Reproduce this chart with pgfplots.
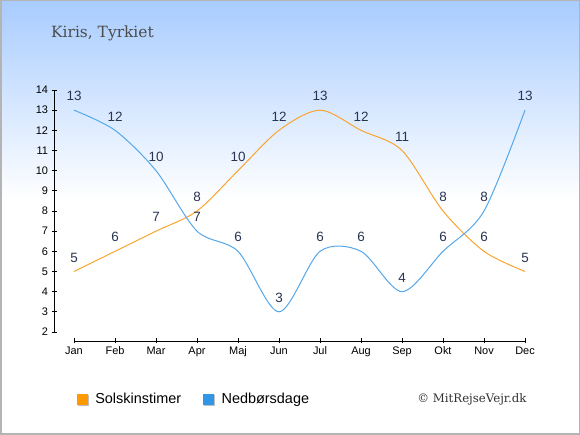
\documentclass[border=0pt]{standalone}
\usepackage{pgfplots}
\pgfplotsset{compat=1.18}
\usepackage{fontspec}
\setmainfont{Liberation Sans}
\newfontfamily\seriffont{DejaVu Serif}
\definecolor{sunc}{RGB}{250,165,50}
\definecolor{rainc}{RGB}{85,168,235}
\definecolor{sunsq}{RGB}{255,153,0}
\definecolor{rainsq}{RGB}{50,150,230}
\definecolor{lbl}{RGB}{40,52,80}
\definecolor{bgtop}{RGB}{168,204,255}
\definecolor{frame}{RGB}{180,180,180}
\begin{document}
\begin{tikzpicture}[x=1bp,y=1bp]
\fill[white] (0,0) rectangle (580,435);
\shade[top color=bgtop, bottom color=white] (0,235) rectangle (580,435);
\draw[frame, line width=1.5bp] (0.75,0.75) rectangle (579.25,434.25);
\node[anchor=base west, font=\seriffont\fontsize{15.5}{18}\selectfont, text=black!70, inner sep=0] at (51,397.5) {Kiris, Tyrkiet};
\node[anchor=center, font=\seriffont\fontsize{11.8}{14}\selectfont, text=black!80, inner sep=0] at (472,36) {© MitRejseVejr.dk};
\begin{axis}[
  at={(74bp,103bp)}, anchor=south west,
  scale only axis, width=451bp, height=242bp,
  xmin=0, xmax=11, ymin=2, ymax=14,
  clip=false,
  axis lines=left, separate axis lines,
  axis x line shift=9bp, axis y line shift=20bp,
  axis line style={-, black, line width=0.8bp},
  xtick={0,...,11},
  xticklabels={Jan,Feb,Mar,Apr,Maj,Jun,Jul,Aug,Sep,Okt,Nov,Dec},
  ytick={2,...,14},
  tick align=center, major tick length=5bp,
  tick style={black, line width=0.8bp},
  ticklabel style={font=\fontsize{11}{13}\selectfont, text=black},
  /pgf/number format/assume math mode=true,
  nodes near coords,
  every node near coord/.append style={font=\fontsize{13.5}{15}\selectfont, text=lbl, anchor=center, yshift=14bp, inner sep=0pt},
  legend style={at={(axis description cs:0.006,-0.277)}, anchor=west, draw=none, fill=none, inner sep=0pt,
    font=\fontsize{14.5}{16}\selectfont,
    /tikz/every odd column/.append style={column sep=5bp},
    /tikz/every even column/.append style={column sep=20bp}},
  legend columns=2,
  legend image code/.code={\fill[black!25] (1bp,-6bp) rectangle (11bp,4bp); \fill[#1] (0bp,-5bp) rectangle (10bp,5bp);},
]
\addplot[sunc, line width=1bp, smooth, mark=none, forget plot] coordinates {
(0,5) (1,6) (2,7) (3,8) (4,10) (5,12) (6,13) (7,12) (8,11) (9,8) (10,6) (11,5)};
\addplot[rainc, line width=1bp, smooth, mark=none, forget plot] coordinates {
(0,13) (1,12) (2,10) (3,7) (4,6) (5,3) (6,6) (7,6) (8,4) (9,6) (10,8) (11,13)};
\addlegendimage{sunsq, fill=sunsq}
\addlegendentry{Solskinstimer}
\addlegendimage{rainsq, fill=rainsq}
\addlegendentry{Nedbørsdage}
\end{axis}
\end{tikzpicture}
\end{document}
